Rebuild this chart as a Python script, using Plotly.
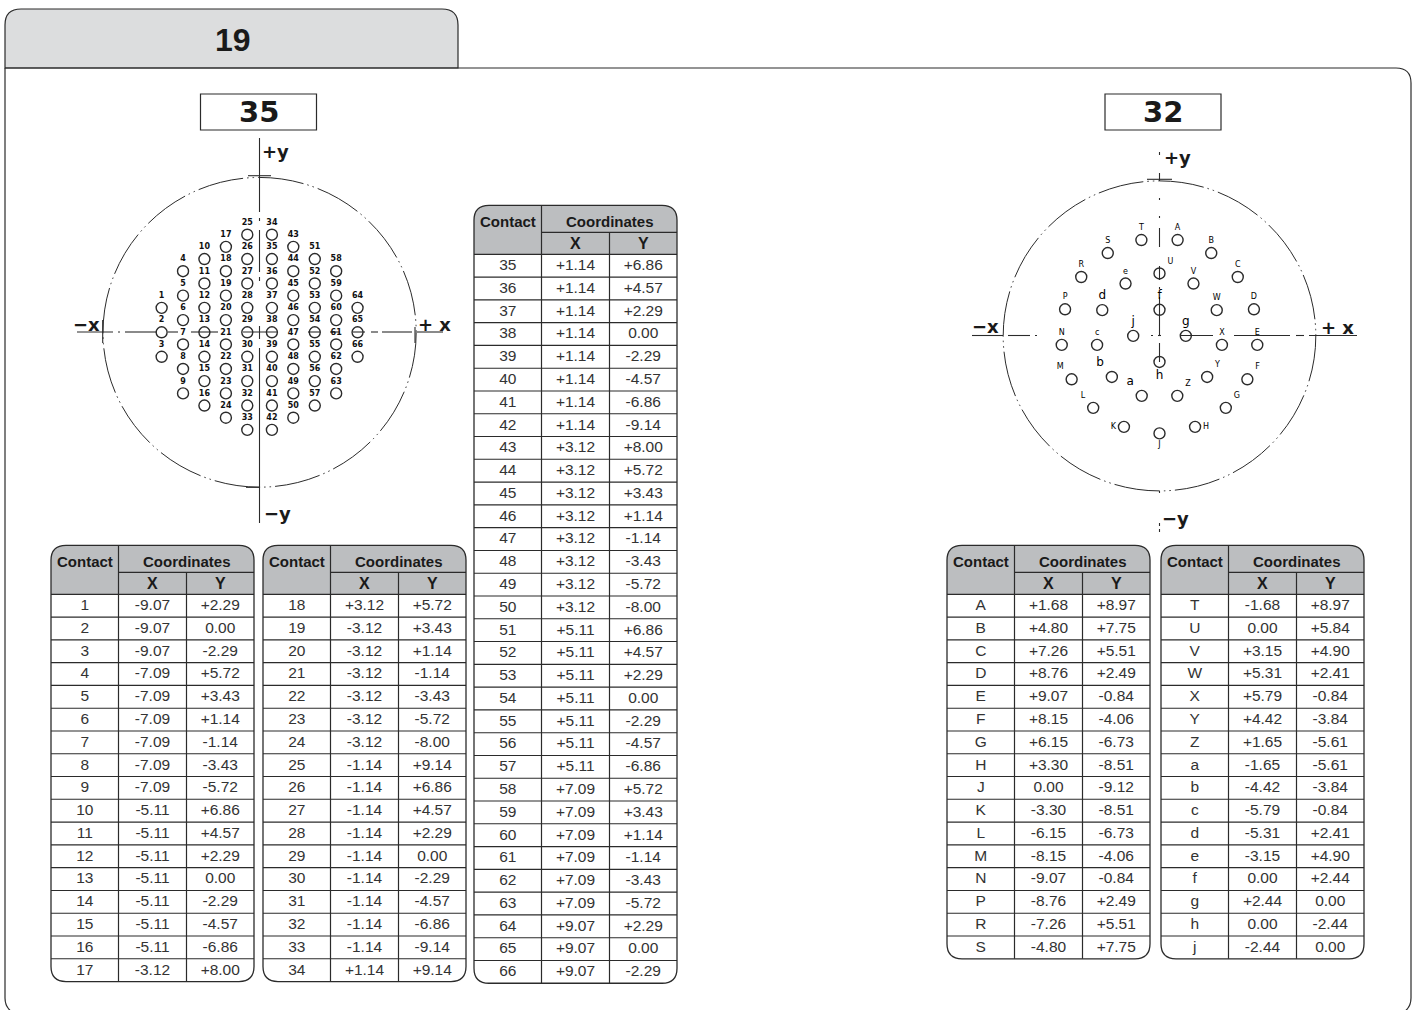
import plotly.graph_objects as go

# ---------- data ----------
tab_title = "19"
left_title = "35"
right_title = "32"
header_contact = "Contact"
header_coords = "Coordinates"
header_x = "X"
header_y = "Y"

contacts_a = [str(n) for n in range(1, 18)]
x_a = ["-9.07","-9.07","-9.07","-7.09","-7.09","-7.09","-7.09","-7.09","-7.09","-5.11","-5.11","-5.11","-5.11","-5.11","-5.11","-5.11","-3.12"]
y_a = ["+2.29","0.00","-2.29","+5.72","+3.43","+1.14","-1.14","-3.43","-5.72","+6.86","+4.57","+2.29","0.00","-2.29","-4.57","-6.86","+8.00"]

contacts_b = [str(n) for n in range(18, 35)]
x_b = ["+3.12","-3.12","-3.12","-3.12","-3.12","-3.12","-3.12","-1.14","-1.14","-1.14","-1.14","-1.14","-1.14","-1.14","-1.14","-1.14","+1.14"]
y_b = ["+5.72","+3.43","+1.14","-1.14","-3.43","-5.72","-8.00","+9.14","+6.86","+4.57","+2.29","0.00","-2.29","-4.57","-6.86","-9.14","+9.14"]

contacts_c = [str(n) for n in range(35, 67)]
x_c = ["+1.14"]*8 + ["+3.12"]*8 + ["+5.11"]*7 + ["+7.09"]*6 + ["+9.07"]*3
y_c = ["+6.86","+4.57","+2.29","0.00","-2.29","-4.57","-6.86","-9.14",
       "+8.00","+5.72","+3.43","+1.14","-1.14","-3.43","-5.72","-8.00",
       "+6.86","+4.57","+2.29","0.00","-2.29","-4.57","-6.86",
       "+5.72","+3.43","+1.14","-1.14","-3.43","-5.72",
       "+2.29","0.00","-2.29"]

contacts_d = list("ABCDEFGHJKLMNPRS")
x_d = ["+1.68","+4.80","+7.26","+8.76","+9.07","+8.15","+6.15","+3.30","0.00","-3.30","-6.15","-8.15","-9.07","-8.76","-7.26","-4.80"]
y_d = ["+8.97","+7.75","+5.51","+2.49","-0.84","-4.06","-6.73","-8.51","-9.12","-8.51","-6.73","-4.06","-0.84","+2.49","+5.51","+7.75"]

contacts_e = list("TUVWXYZabcdefghj")
x_e = ["-1.68","0.00","+3.15","+5.31","+5.79","+4.42","+1.65","-1.65","-4.42","-5.79","-5.31","-3.15","0.00","+2.44","0.00","-2.44"]
y_e = ["+8.97","+5.84","+4.90","+2.41","-0.84","-3.84","-5.61","-5.61","-3.84","-0.84","+2.41","+4.90","+2.44","0.00","-2.44","0.00"]

# The drawing places contact 18 on the negative side although its table row reads +3.12
drawing_x_override = {"18": "-3.12"}

label_side = {"U": "top right", "Y": "top right", "Z": "top right", "F": "top right", "G": "top right",
              "H": "middle right", "J": "bottom center", "h": "bottom center", "K": "middle left",
              "L": "top left", "M": "top left", "a": "top left", "b": "top left"}
large_labels = list("abdfghj")
shell_radius = 14.5

# ---------- styling ----------
INK = "#2b2b2b"
NARROW = "Liberation Sans"
WIDE = "DejaVu Sans"
W, H = 1415, 1010
shapes, annos = [], []


def rounded(x0, y0, x1, y1, tl=0, tr=0, br=0, bl=0, close=True):
    p = f"M{x0+tl},{y0} L{x1-tr},{y0} Q{x1},{y0} {x1},{y0+tr} L{x1},{y1-br} Q{x1},{y1} {x1-br},{y1} L{x0+bl},{y1} Q{x0},{y1} {x0},{y1-bl} L{x0},{y0+tl} Q{x0},{y0} {x0+tl},{y0}"
    return p + (" Z" if close else "")


def pline(x0, y0, x1, y1, width=1.2, color=INK, dash="solid"):
    shapes.append(dict(type="line", xref="x", yref="y", x0=x0, y0=y0, x1=x1, y1=y1,
                       line=dict(color=color, width=width, dash=dash), layer="below"))


def ptext(x, y, t, size, font=WIDE, bold=True, color="#1a1a1a"):
    annos.append(dict(xref="x", yref="y", x=x, y=y, text=f"<b>{t}</b>" if bold else t, showarrow=False,
                      font=dict(family=font, size=size, color=color), xanchor="center", yanchor="middle"))


# ---------- page frame ----------
shapes.append(dict(type="path", xref="x", yref="y", path=rounded(5, 9, 458, 68, tl=16, tr=16),
                   fillcolor="#dcddde", line=dict(color=INK, width=1.2), layer="below"))
shapes.append(dict(type="path", xref="x", yref="y",
                   path="M5,68 L1396,68 Q1411,68 1411,83 L1411,998 Q1411,1007 1404,1012 M5,68 L5,998 Q5,1007 12,1012",
                   line=dict(color=INK, width=1.2), layer="below"))
ptext(232.5, 39.5, tab_title, 32, font="Liberation Sans")
for x0, x1, t in [(200.5, 316.5, left_title), (1105, 1221, right_title)]:
    shapes.append(dict(type="rect", xref="x", yref="y", x0=x0, x1=x1, y0=94, y1=130,
                       line=dict(color=INK, width=1.2), layer="below"))
    ptext((x0 + x1) / 2, 112, t, 29)


# ---------- tables ----------
ROW = 22.78
text_traces = []


def table(x0, top, contacts, xs, ys):
    c1, c2, x1 = x0 + 67.5, x0 + 135.5, x0 + 203
    sub, head_bot = top + 27, top + 49
    bot = head_bot + ROW * len(contacts)
    shapes.append(dict(type="path", xref="x", yref="y", path=rounded(x0, top, x1, head_bot, tl=15, tr=15),
                       fillcolor="#bcbec0", line=dict(width=0), layer="below"))
    for i in range(1, len(contacts)):
        pline(x0, head_bot + i * ROW, x1, head_bot + i * ROW, 1.1)
    pline(x0, head_bot, x1, head_bot, 1.2)
    pline(c1, sub, x1, sub, 1.2)
    pline(c1, top, c1, bot, 1.2)
    pline(c2, sub, c2, bot, 1.2)
    shapes.append(dict(type="path", xref="x", yref="y",
                       path=rounded(x0, top, x1, bot, tl=15, tr=15, br=15, bl=15),
                       line=dict(color=INK, width=1.3), layer="below"))
    ptext((x0 + c1) / 2 + 0.5, top + 16, header_contact, 15, font=NARROW)
    ptext((c1 + x1) / 2 + 0.5, top + 16, header_coords, 15, font=NARROW)
    ptext((c1 + c2) / 2, top + 38, header_x, 16, font=NARROW)
    ptext((c2 + x1) / 2, top + 38, header_y, 16, font=NARROW)
    ty = [head_bot + (i + 0.5) * ROW + 0.5 for i in range(len(contacts))]
    for cx, vals in [((x0 + c1) / 2, contacts), ((c1 + c2) / 2, xs), ((c2 + x1) / 2, ys)]:
        text_traces.append(go.Scatter(x=[cx] * len(vals), y=ty, text=vals, mode="text", hoverinfo="skip",
                                      textfont=dict(family=NARROW, size=15.5, color="#333333"),
                                      textposition="middle center", showlegend=False, xaxis="x", yaxis="y"))


table(51, 545.3, contacts_a, x_a, y_a)
table(263, 545.3, contacts_b, x_b, y_b)
table(474, 205.3, contacts_c, x_c, y_c)
table(947, 545.3, contacts_d, x_d, y_d)
table(1161, 545.3, contacts_e, x_e, y_e)

# ---------- connector drawings ----------
CHAIN = "46px,4px,1.5px,4px,1.5px,4px"


def segs(horizontal, fixed, pairs, width=1.1):
    for a, b in pairs:
        if horizontal:
            pline(a, fixed, b, fixed, width)
        else:
            pline(fixed, a, fixed, b, width)


# left connector axes (page pixels)
segs(True, 332, [(77, 113), (118, 120), (125, 157), (168, 178), (191, 218), (243, 277), (308, 320), (330, 340),
                 (353, 365), (371, 378), (382, 412), (417, 443)])
segs(False, 259.5, [(138, 212), (218, 221), (230, 272), (277, 281), (326, 339), (348, 523)])
segs(True, 175.7, [(248, 271)])
segs(True, 487.3, [(246, 260)])
segs(False, 102.7, [(320, 343)])
segs(False, 415, [(327, 343)])
# right connector axes (page pixels)
segs(True, 335.5, [(972, 1003), (1008, 1030), (1035, 1037), (1151, 1153), (1158, 1161), (1180, 1213), (1234, 1290),
                   (1296, 1304), (1309, 1357)])
segs(False, 1159.5, [(152, 155), (173, 181), (198, 200), (216, 218), (228, 247), (266, 280), (287, 289), (297, 336),
                     (343, 362), (491, 493), (523, 526), (529, 532)])
segs(True, 179.3, [(1147, 1172)])

# panel axes
panels = [
    dict(cx=259.6, cy=332.3, sx=10.8, sy=10.68),
    dict(cx=1159.5, cy=335.9, sx=10.78, sy=10.69),
]
layout_axes = {}
for n, (p, (l, r, t, b)) in enumerate(zip(panels, [(60, 460, 130, 530), (960, 1360, 140, 540)]), start=2):
    layout_axes[f"xaxis{n}"] = dict(domain=[l / W, r / W], range=[(l - p["cx"]) / p["sx"], (r - p["cx"]) / p["sx"]],
                                    visible=False, anchor=f"y{n}", fixedrange=True)
    layout_axes[f"yaxis{n}"] = dict(domain=[1 - b / H, 1 - t / H], range=[(p["cy"] - b) / p["sy"], (p["cy"] - t) / p["sy"]],
                                    visible=False, anchor=f"x{n}", fixedrange=True)
    shapes.append(dict(type="circle", xref=f"x{n}", yref=f"y{n}", x0=-shell_radius, x1=shell_radius,
                       y0=-shell_radius, y1=shell_radius, line=dict(color=INK, width=1, dash=CHAIN), layer="below"))

left_names = contacts_a + contacts_b + contacts_c
left_x = [float(drawing_x_override.get(n, v)) for n, v in zip(left_names, x_a + x_b + x_c)]
left_y = [float(v) for v in y_a + y_b + y_c]
right_names = contacts_d + contacts_e
right_x = [float(v) for v in x_d + x_e]
right_y = [float(v) for v in y_d + y_e]

left_trace = go.Scatter(x=left_x, y=left_y, text=left_names, mode="markers+text", xaxis="x2", yaxis="y2",
                        marker=dict(symbol="circle-open", size=11, color=INK, line=dict(width=1.4, color=INK)),
                        textposition="top center", cliponaxis=False, showlegend=False,
                        textfont=dict(family="DejaVu Sans", size=8, color="#111111", weight="bold"),
                        hovertemplate="%{text}: %{x}, %{y}<extra></extra>")
right_trace = go.Scatter(x=right_x, y=right_y, text=right_names, mode="markers+text", xaxis="x3", yaxis="y3",
                         marker=dict(symbol="circle-open", size=11, color=INK, line=dict(width=1.4, color=INK)),
                         textposition=[label_side.get(n, "top center") for n in right_names], cliponaxis=False,
                         showlegend=False,
                         textfont=dict(family="DejaVu Sans", color="#000000",
                                       size=[12 if n in large_labels else 8 for n in right_names]),
                         hovertemplate="%{text}: %{x}, %{y}<extra></extra>")

for x, y, t, s in [(275, 151, "+y", 18), (86, 324, "−x", 18), (434, 324, "+ x", 18), (277, 513, "−y", 18),
                   (1177, 157, "+y", 18), (985, 326, "−x", 18), (1337, 327, "+ x", 18), (1175, 518, "−y", 18)]:
    ptext(x, y, t, s)

fig = go.Figure(text_traces + [left_trace, right_trace])
fig.update_layout(
    width=W, height=H, autosize=False, margin=dict(l=0, r=0, t=0, b=0),
    paper_bgcolor="white", plot_bgcolor="rgba(0,0,0,0)", showlegend=False,
    xaxis=dict(range=[0, W], domain=[0, 1], visible=False, fixedrange=True),
    yaxis=dict(range=[H, 0], domain=[0, 1], visible=False, fixedrange=True),
    shapes=shapes, annotations=annos, **layout_axes,
)
fig.write_html("out.html", config=dict(displayModeBar=False),
               post_script="document.body.style.margin='0';document.documentElement.style.overflow='hidden';")
